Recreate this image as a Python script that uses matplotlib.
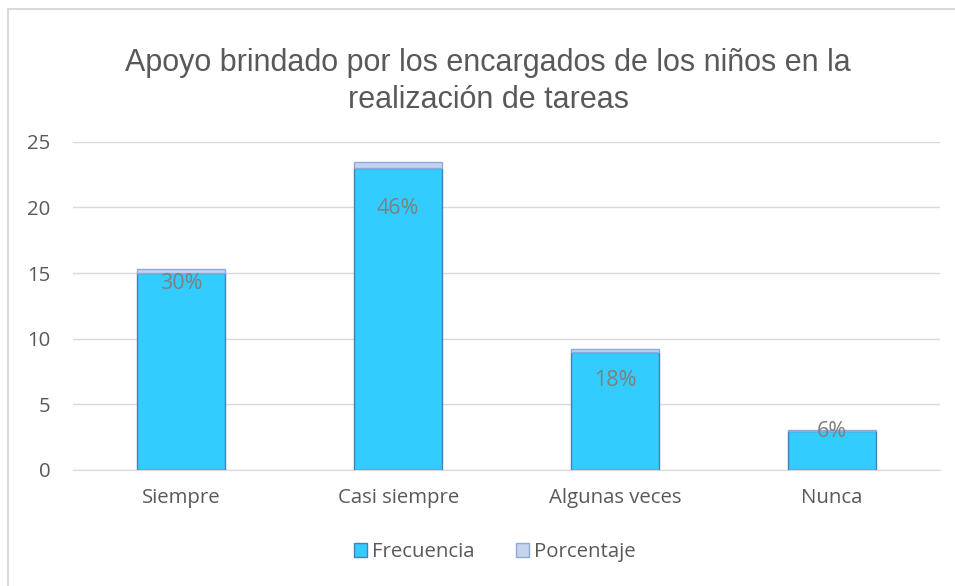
import matplotlib.pyplot as plt
from matplotlib.patches import Rectangle

categorias = ["Siempre", "Casi siempre", "Algunas veces", "Nunca"]
frecuencia = [15, 23, 9, 3]
porcentaje = [0.30, 0.46, 0.18, 0.06]
etiquetas = ["30%", "46%", "18%", "6%"]
# where the data labels sit
etiqueta_y = [14.2, 19.9, 6.8, 2.9]

gris = "#595959"

fig = plt.figure(figsize=(9.55, 5.86), dpi=100)
ax = fig.add_axes([0.0764, 0.198, 0.908, 0.56])

x = range(len(categorias))
ax.bar(x, frecuencia, width=0.405, color="#33CCFF", edgecolor="#4A7EBB",
       linewidth=1, label="Frecuencia", zorder=3)
ax.bar(x, porcentaje, bottom=frecuencia, width=0.405, color="#C5D4EC",
       edgecolor="#8EAADB", linewidth=1, label="Porcentaje", zorder=3)

for xi, yi, t in zip(x, etiqueta_y, etiquetas):
    ax.text(xi, yi, t, ha="center", va="center", fontsize=15.5,
            color="#7F7F7F", family="Open Sans", zorder=4)

ax.set_ylim(0, 25)
ax.set_xlim(-0.5, len(categorias) - 0.5)
ax.set_yticks(range(0, 26, 5))
ax.set_xticks(list(x))
ax.set_xticklabels(categorias)
ax.grid(axis="y", color="#D9D9D9", linewidth=1, zorder=0)
for s in ["top", "right", "left"]:
    ax.spines[s].set_visible(False)
ax.spines["bottom"].set_color("#D9D9D9")
ax.tick_params(axis="both", length=0, labelsize=14.7, labelcolor=gris)
ax.tick_params(axis="x", pad=13)
ax.tick_params(axis="y", pad=16)
for lbl in ax.get_xticklabels() + ax.get_yticklabels():
    lbl.set_family("Open Sans")

fig.text(0.511, 0.861, "Apoyo brindado por los encargados de los niños en la\nrealización de tareas",
         ha="center", va="center", fontsize=22, color=gris,
         family="Liberation Sans", linespacing=1.3)

leg = fig.legend(loc="center", bbox_to_anchor=(0.518, 0.058), ncol=2, frameon=False,
                 prop={"family": "Open Sans", "size": 14.7}, handlelength=0.65,
                 handleheight=0.65, columnspacing=2.0, handletextpad=0.25)
for t in leg.get_texts():
    t.set_color(gris)

fig.patches.append(Rectangle((0.0085, -0.01), 1.0, 0.995, transform=fig.transFigure,
                             fill=False, edgecolor="#D9D9D9", linewidth=1.5))

fig.savefig("out.png", dpi=100)
